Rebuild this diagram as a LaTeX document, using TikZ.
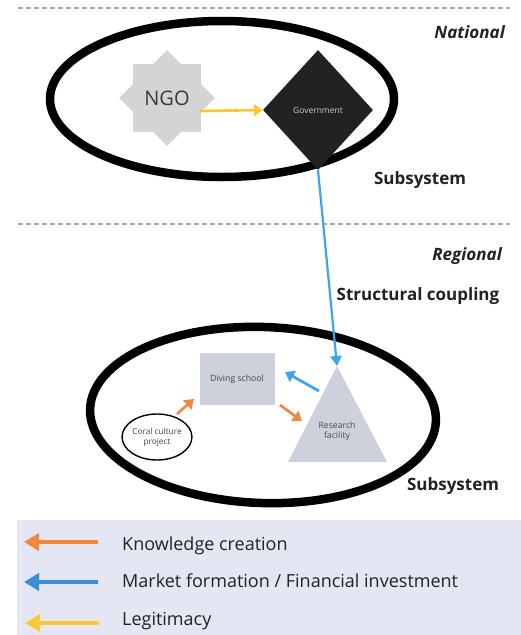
\documentclass[tikz,border=0pt]{standalone}
\usepackage{fontspec}
\setmainfont{Open Sans}
\usetikzlibrary{shapes.geometric,arrows.meta}
\definecolor{orangeA}{HTML}{F0883E}
\definecolor{blueA}{HTML}{3DA5EE}
\definecolor{blueL}{HTML}{3C8CD6}
\definecolor{yellowA}{HTML}{F9C93A}
\definecolor{boxgray}{HTML}{CDD1DB}
\definecolor{stargray}{HTML}{D4D4D4}
\definecolor{govdark}{HTML}{222222}
\definecolor{legendbg}{HTML}{E4E7F3}
\definecolor{dashgray}{HTML}{A8A8A8}
\definecolor{txt}{HTML}{222222}
\tikzset{
  sep/.style={dashgray, line width=1.6pt, dash pattern=on 5pt off 3pt},
  sys/.style={draw=black, line width=8.5pt},
  head/.style={font=\bfseries\fontsize{17}{20}\selectfont, text=txt, inner sep=0pt},
  headit/.style={font=\bfseries\itshape\fontsize{17}{20}\selectfont, text=txt, inner sep=0pt},
  flowthin/.style={line width=2.7pt, -{Triangle[length=9pt, width=12pt]}},
  legarrow/.style={line width=3.8pt, -{Triangle[length=15pt, width=17pt]}},
  legtext/.style={font=\fontsize{18}{21}\selectfont, text=txt, anchor=west, inner sep=0pt},
  small/.style={font=\fontsize{8.7}{10.5}\selectfont, text=txt!80, align=center, inner sep=0pt},
}
\begin{document}
\begin{tikzpicture}[x=1pt, y=-1pt]
\useasboundingbox (0,0) rectangle (521,635);
\fill[white] (0,0) rectangle (521,635);

% separators
\draw[sep] (18,8) -- (510,8);
\draw[sep] (18,224) -- (510,224);

% headings
\node[headit, anchor=east] (national) at (505,32) {National};
\node[headit, anchor=east] (regional) at (502,256) {Regional};
\node[head] (sub1) at (420,180) {Subsystem};
\node[head] (coupling) at (418,296) {Structural coupling};
\node[head] (sub2) at (453,486) {Subsystem};

% top subsystem
\draw[sys] (222,99) ellipse [x radius=172, y radius=78];
\node[star, star points=8, star point ratio=1.31, fill=stargray, minimum size=96pt, inner sep=0pt,
      font=\fontsize{20}{23}\selectfont, text=txt!90] (ngo) at (167,98) {NGO};
\node[diamond, fill=govdark, minimum width=110pt, minimum height=120pt, inner sep=0pt,
      font=\fontsize{8.5}{10}\selectfont, text=white!80!black] (gov) at (318,110) {Government};
\draw[yellowA, flowthin] (200,111) -- (gov.west);

% lower subsystem
\draw[sys, rotate around={-2:(263,415)}] (263,415) ellipse [x radius=173, y radius=88];
\node[rectangle, fill=boxgray, minimum width=75pt, minimum height=52pt, inner sep=0pt,
      font=\fontsize{8.7}{10}\selectfont, text=txt!85] (dive) at (237,379) {Diving school};
\fill[boxgray] (337,366) -- (387,462) -- (288,462) -- cycle;
\coordinate (rfapex) at (337,366);
\coordinate (rfleft) at (319,391);
\coordinate (rfside) at (302,421);
\node[small] (rf) at (337,431) {Research\\facility};
\node[ellipse, draw=black, line width=1.4pt, minimum width=62pt, minimum height=46pt, inner sep=0pt,
      font=\fontsize{8.3}{10}\selectfont, text=txt!85, align=center] (coral) at (157,437) {Coral culture\\project};
\coordinate (c1) at (177,414);

% connectors
\draw[blueA, line width=2.2pt, -{Triangle[length=10pt, width=11pt]}] (gov.south) -- (rfapex);
\draw[blueA, flowthin] (rfleft) -- (285,372);
\draw[orangeA, flowthin] (c1) -- (194,399);
\draw[orangeA, flowthin] (280,405) -- (rfside);

% legend
\fill[legendbg] (17,520) rectangle (521,635);
\coordinate (l1a) at (98,542); \coordinate (l1b) at (24,542);
\coordinate (l2a) at (98,582); \coordinate (l2b) at (24,582);
\coordinate (l3a) at (99,623); \coordinate (l3b) at (25,623);
\draw[orangeA, legarrow] (l1a) -- (l1b);
\draw[blueL, legarrow] (l2a) -- (l2b);
\draw[yellowA, legarrow] (l3a) -- (l3b);
\node[legtext] (k) at (122,546) {Knowledge creation};
\node[legtext] (m) at (122,581) {Market formation / Financial investment};
\node[legtext] (lg) at (122,621) {Legitimacy};
\end{tikzpicture}
\end{document}
